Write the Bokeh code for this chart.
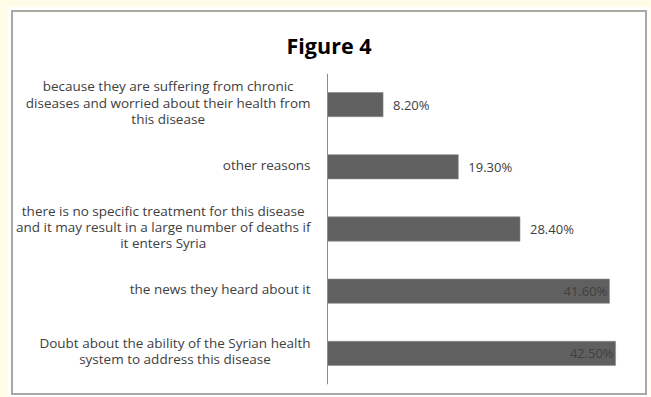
from bokeh.plotting import figure
from bokeh.models import FactorRange, Range1d, ColumnDataSource, Span
from bokeh.layouts import column
from bokeh.core.properties import value
from bokeh.embed import file_html
from bokeh.resources import INLINE

# Survey reasons and the share of respondents giving each one (%)
reasons = [
    "because they are suffering from chronic\ndiseases and worried about their health from\nthis disease",
    "other reasons",
    "there is no specific treatment for this disease\nand it may result in a large number of deaths if\nit enters Syria",
    "the news they heard about it",
    "Doubt about the ability of the Syrian health\nsystem to address this disease",
]
shares = [8.2, 19.3, 28.4, 41.6, 42.5]
share_labels = ["8.20%", "19.30%", "28.40%", "41.60%", "42.50%"]

FONT = "Open Sans"
TEXT = "#404040"
BAR = "#606060"

# canvas geometry: the value axis sits AXIS_PX from the left edge,
# the plotting area (0..X_MAX %) ends RIGHT_PAD from the right edge
W, H = 636, 385
AXIS_PX, RIGHT_PAD = 314, 17
X_MAX = 45
px_per_unit = (W - RIGHT_PAD - AXIS_PX) / X_MAX
x_start = -AXIS_PX / px_per_unit

# long bars carry their label inside the bar end, short ones just past it
inside = [s > 40 for s in shares]
src = ColumnDataSource(dict(
    reason=reasons,
    share=shares,
    label=share_labels,
    align=["right" if i else "left" for i in inside],
    dx=[-2 if i else 10 for i in inside],
))

p = figure(
    width=W, height=H,
    y_range=FactorRange(*reversed(reasons)),
    x_range=Range1d(x_start, X_MAX),
    output_backend="svg", toolbar_location=None,
    min_border_left=0, min_border_right=RIGHT_PAD,
    min_border_top=61, min_border_bottom=13,
    background_fill_color="white", border_fill_color="white",
    outline_line_color=None,
    styles={"border": "2px solid #a8a8a8", "box-shadow": "0 0 0 3px #ffffff"},
)

p.title.text = "Figure 4"
p.title.align = "left"
p.title.offset = AXIS_PX - 41
p.title.text_font = FONT
p.title.text_font_style = "bold"
p.title.text_font_size = "21.5px"
p.title.text_color = "#000000"
p.title.standoff = 27

p.xaxis.visible = False
p.yaxis.visible = False
p.xgrid.visible = False
p.ygrid.visible = False

p.hbar(y="reason", right="share", left=0, height=0.39, source=src,
       fill_color=BAR, line_color="#8a8a8a", line_width=0.6)

# vertical category axis line at 0 %
p.add_layout(Span(location=0, dimension="height", line_color="#8c8c8c", line_width=1))

p.text(x="share", y="reason", text="label", source=src,
       text_align="align", x_offset="dx", text_baseline="middle",
       text_font=value(FONT), text_font_size="13px", text_color=TEXT)

# category names: block right-aligned next to the axis, lines centred
p.text(x=0, y="reason", text="reason", source=src, x_offset=-17, y_offset=-2,
       anchor="center_right", text_align="center", text_baseline="middle",
       text_font=value(FONT), text_font_size="13.5px", text_color=TEXT,
       text_line_height=0.9)

page = column(p, styles={"background-color": "#FFFDE8", "padding": "10px 0 0 11px"},
              width=651, height=397)

open("out.html", "w").write(file_html(page, INLINE))
